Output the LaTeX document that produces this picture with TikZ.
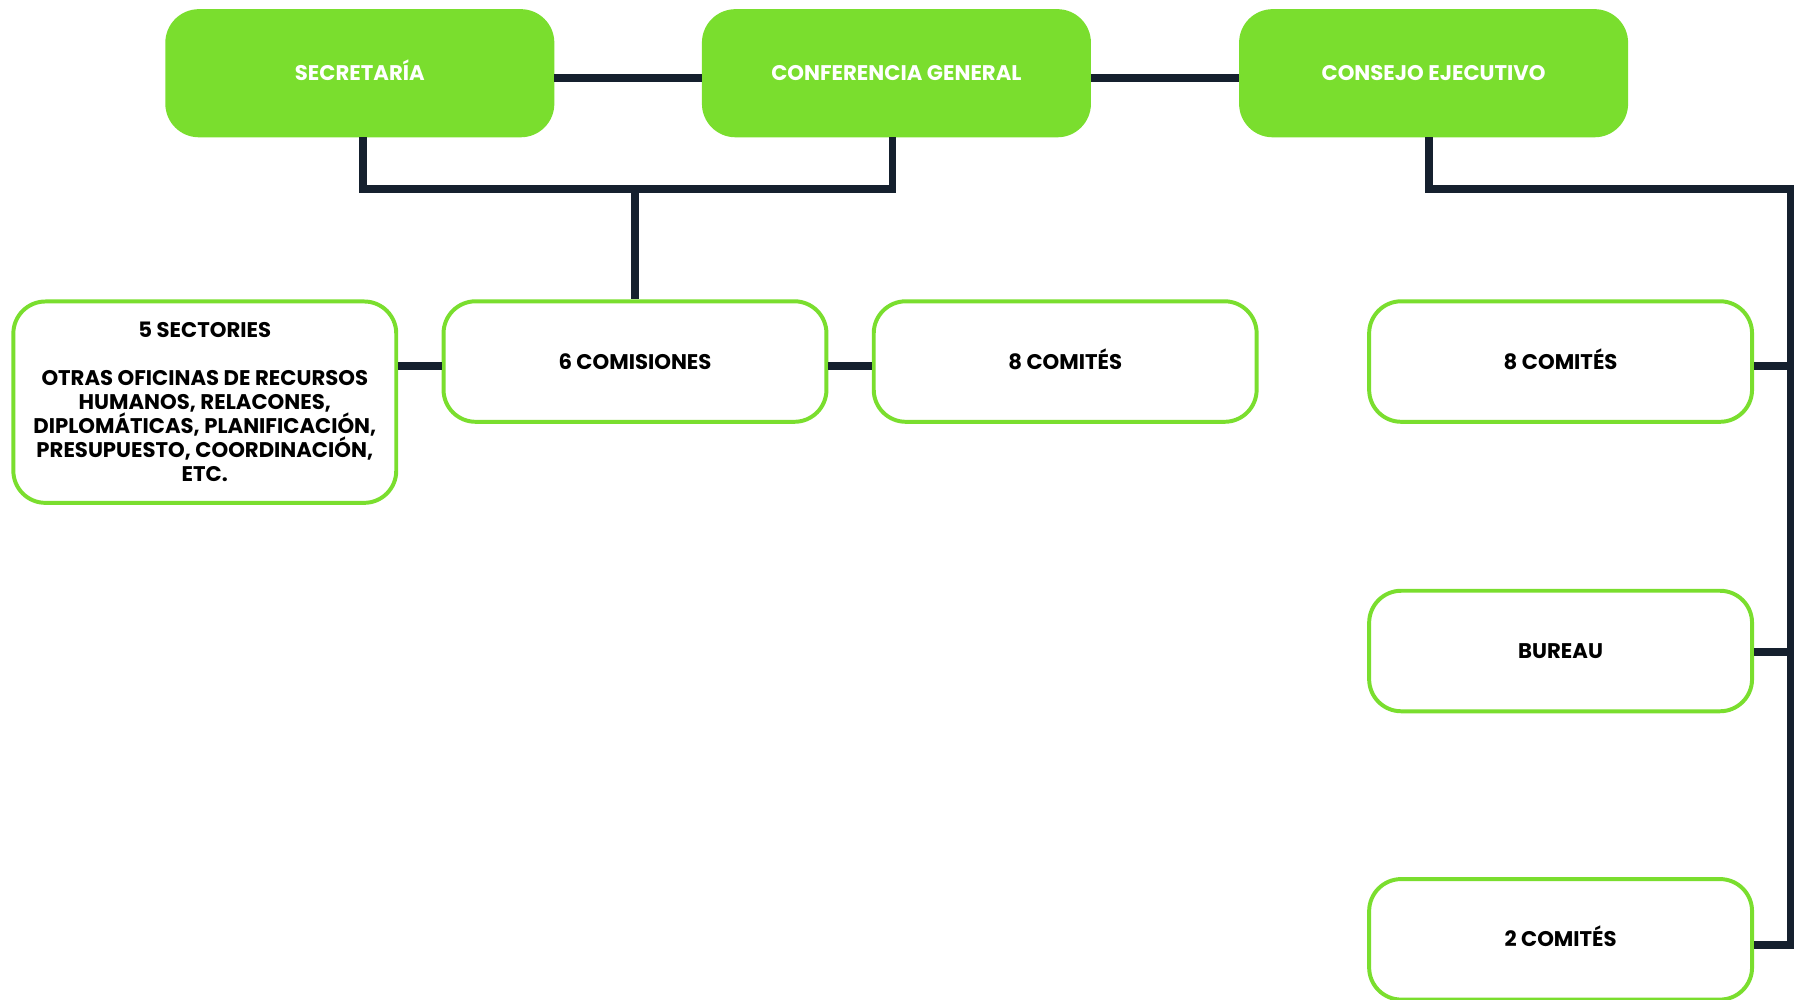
\documentclass[tikz,border=0pt]{standalone}
\usepackage{fontspec}
\setmainfont{Poppins}
\usepackage{xcolor}
\definecolor{verde}{RGB}{122,222,46}
\definecolor{marino}{RGB}{21,32,46}

\tikzset{
  cabeza/.style={rectangle, rounded corners=21pt, fill=verde, draw=verde, line width=2pt,
    minimum width=253pt, minimum height=82pt, text=white, font=\bfseries\fontsize{13.9}{15.75}\selectfont,
    inner sep=0pt, text height=9.8pt, text depth=0pt},
  caja/.style={rectangle, rounded corners=21pt, draw=verde, fill=white, line width=2.6pt,
    minimum width=251pt, minimum height=79pt, text=black, font=\bfseries\fontsize{13.9}{15.75}\selectfont,
    inner sep=0pt, align=center},
  una/.style={caja, text height=9.8pt, text depth=0pt},
  enlace/.style={draw=marino, line width=5.2pt, line join=miter}
}

\begin{document}
\begin{tikzpicture}[x=0.75pt,y=0.75pt,yscale=-1,xscale=1]
\useasboundingbox (0,0) rectangle (1568,874);

%Shape: Rounded Rect -- top row
\node [cabeza] (secr) at (314.5,64) {SECRETARÍA};
\node [cabeza] (conf) at (783.5,64) {CONFERENCIA GENERAL};
\node [cabeza] (cons) at (1253,64) {CONSEJO EJECUTIVO};

%Shape: Rounded Rect -- second row
\node [caja, minimum height=132pt] (sect) at (179,351.5) {5 SECTORIES\\[15.75pt]
  OTRAS OFICINAS DE RECURSOS\\ HUMANOS, RELACONES,\\ DIPLOMÁTICAS, PLANIFICACIÓN,\\ PRESUPUESTO, COORDINACIÓN,\\ ETC.};
\node [una] (comis) at (555,316) {6 COMISIONES};
\node [una] (ocho) at (931,316) {8 COMITÉS};
\node [una] (ochob) at (1364,316) {8 COMITÉS};
\node [una] (bur) at (1364,569) {BUREAU};
\node [una] (dos) at (1364,821) {2 COMITÉS};

% junction points
\coordinate (nudo) at (555,165);
\coordinate (riel) at (1565,165);

%Straight Lines -- top row
\draw [enlace] ([yshift=3pt]secr.east) -- ([yshift=3pt]conf.west);
\draw [enlace] ([yshift=3pt]conf.east) -- ([yshift=3pt]cons.west);

%Straight Lines -- secretaria / conferencia down to comisiones
\draw [enlace] ([xshift=2.2pt]secr.south) |- (nudo) -| ([xshift=-2.6pt]conf.south);
\draw [enlace] (nudo) -- (comis.north);

%Straight Lines -- second row
\draw [enlace] ([yshift=3pt]sect.east |- comis.west) -- ([yshift=3pt]comis.west);
\draw [enlace] ([yshift=3pt]comis.east) -- ([yshift=3pt]ocho.west);

%Straight Lines -- consejo to the right column
\draw [enlace] ([xshift=-3pt]cons.south) |- (riel) |- ([yshift=3.75pt]dos.east);
\draw [enlace] ([yshift=3pt]riel |- ochob.east) -- ([yshift=3pt]ochob.east);
\draw [enlace] ([yshift=0.75pt]riel |- bur.east) -- ([yshift=0.75pt]bur.east);

\end{tikzpicture}
\end{document}
